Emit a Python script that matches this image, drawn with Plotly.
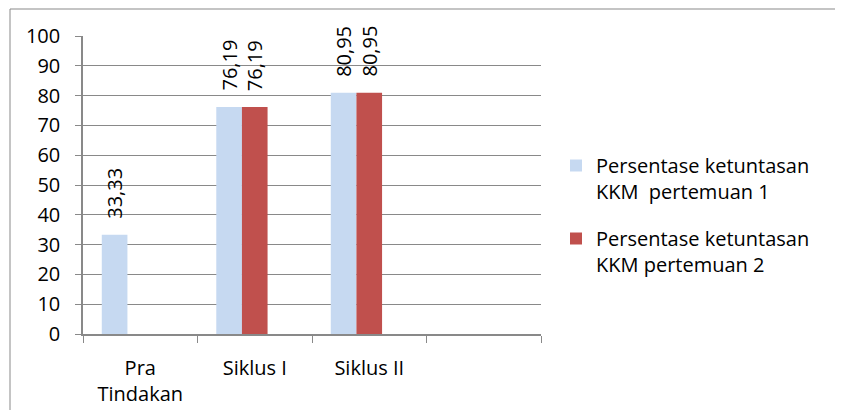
import plotly.graph_objects as go

categories = ["Pra<br>Tindakan", "Siklus I", "Siklus II", " "]
series_names = ["Persentase ketuntasan<br>KKM\u00a0 pertemuan 1",
                "Persentase ketuntasan<br>KKM pertemuan 2"]
pertemuan1 = [33.33, 76.19, 80.95, None]
pertemuan2 = [None, 76.19, 80.95, None]
y_ticks = [0, 10, 20, 30, 40, 50, 60, 70, 80, 90, 100]

colors = ["#C6D9F1", "#C0504D"]
FONT = "Open Sans"
GRID = "#898989"

# page body has an 8px margin, so figure coordinates are shifted by 8
SH = 8
W, H = 843 - SH, 418 - 2 * SH
L, T = 83 - SH, 36 - SH
plot_w, plot_h = 458, 298
R = W - L - plot_w
B = H - T - plot_h
px_per_cat = plot_w / len(categories)

bar_w = 0.224
offsets = [-0.336, -0.112]

fig = go.Figure()
for name, vals, col, off, grp in zip(series_names, [pertemuan1, pertemuan2], colors, offsets, ["a", "b"]):
    fig.add_trace(go.Bar(
        x=categories, y=vals, name=name, marker=dict(color=col, line=dict(width=0)),
        width=bar_w, offset=off, legendgroup=grp, cliponaxis=False,
    ))

annotations = []
for vals, off in zip([pertemuan1, pertemuan2], offsets):
    for c, v in zip(categories, vals):
        if v is None:
            continue
        annotations.append(dict(
            x=c, y=v, xref="x", yref="y", text=f"{v:.2f}".replace(".", ","),
            showarrow=False, textangle=-90, yanchor="bottom", xanchor="center",
            xshift=(off + bar_w / 2) * px_per_cat, yshift=14,
            font=dict(family=FONT, size=20, color="#000000"),
        ))

def px_x(px):
    return (px - SH - L) / plot_w

def px_y(py):
    return (T + plot_h - (py - SH)) / plot_h

border = dict(color=GRID, width=1)
shapes = [
    dict(type="line", xref="paper", yref="paper",
         x0=px_x(10), x1=px_x(10), y0=px_y(9), y1=px_y(430), line=border, layer="below"),
    dict(type="line", xref="paper", yref="paper",
         x0=px_x(10), x1=px_x(850), y0=px_y(9), y1=px_y(9), line=border, layer="below"),
]

fig.update_layout(
    width=W, height=H,
    margin=dict(l=L, r=R, t=T, b=B, pad=0, autoexpand=False),
    paper_bgcolor="white", plot_bgcolor="white",
    barmode="group",
    font=dict(family=FONT, size=20, color="#000000"),
    showlegend=True,
    legend=dict(
        x=px_x(556), y=px_y(146), xanchor="left", yanchor="top",
        valign="top", tracegroupgap=18, itemwidth=30,
        font=dict(family=FONT, size=20, color="#000000"),
        bgcolor="rgba(0,0,0,0)",
    ),
    annotations=annotations,
    shapes=shapes,
    xaxis=dict(
        type="category", categoryorder="array", categoryarray=categories,
        range=[-0.5, len(categories) - 0.5], automargin=False,
        tickson="boundaries", ticks="outside", ticklen=7, tickcolor=GRID, tickwidth=1,
        showline=True, linecolor=GRID, linewidth=1.5, showgrid=False,
        ticklabelstandoff=15,
        tickfont=dict(family=FONT, size=20, color="#000000"),
    ),
    yaxis=dict(
        range=[0, 100], tickmode="array", tickvals=y_ticks, ticktext=[str(t) for t in y_ticks],
        automargin=False,
        ticks="outside", ticklen=6, tickcolor=GRID, tickwidth=1,
        showline=True, linecolor=GRID, linewidth=1.5,
        showgrid=True, gridcolor=GRID, gridwidth=1, zeroline=False,
        ticklabelstandoff=11,
        tickfont=dict(family=FONT, size=20, color="#000000"),
    ),
)

fig.write_html("out.html")
